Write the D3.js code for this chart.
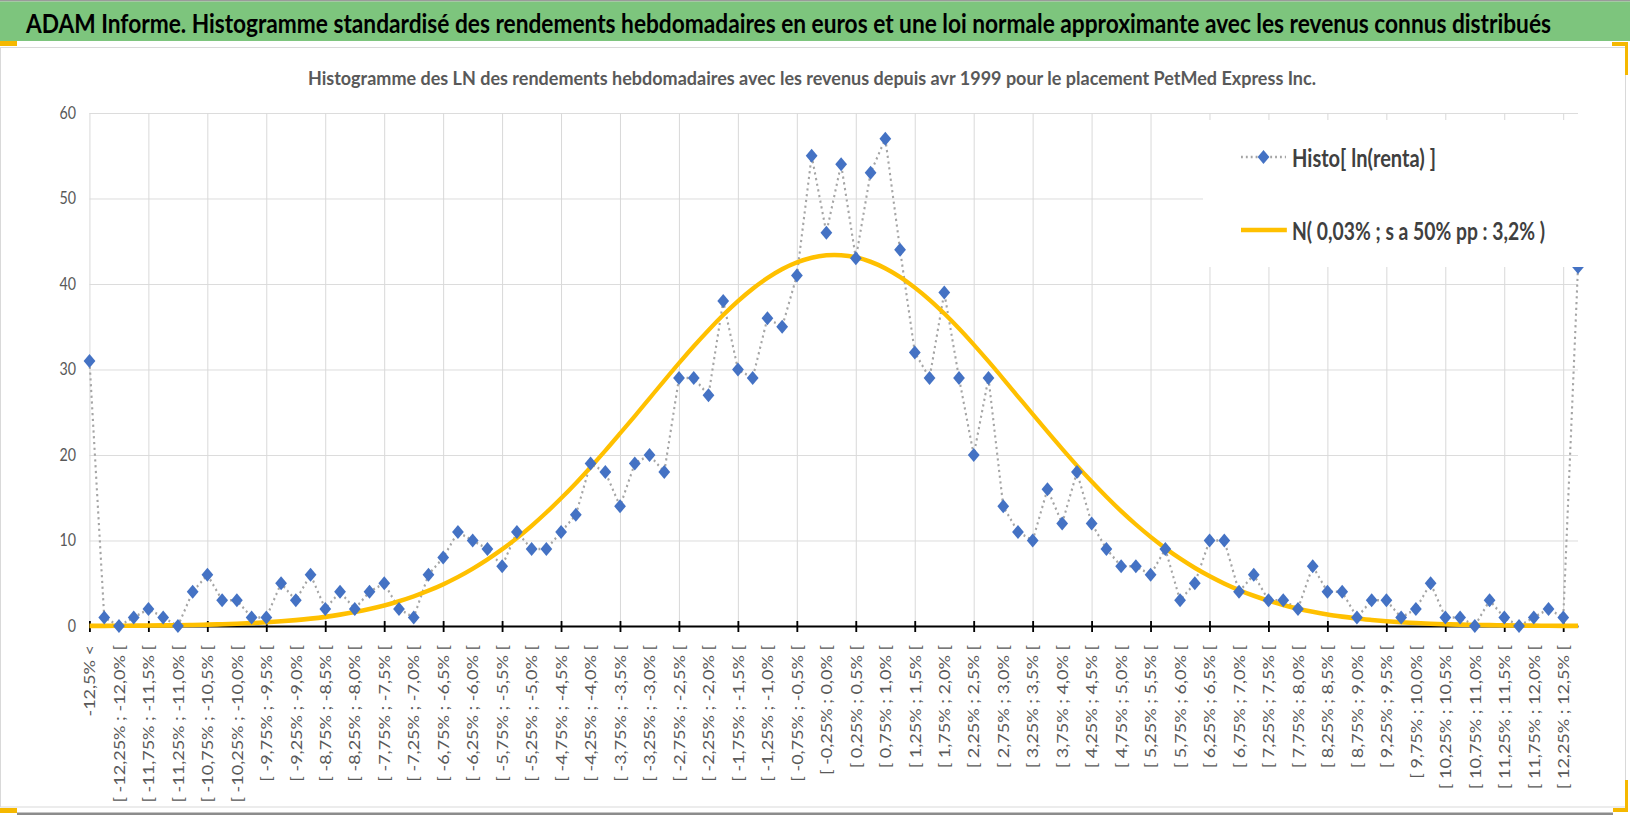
<!DOCTYPE html>
<html>
<head>
<meta charset="utf-8">
<script src="https://cdn.jsdelivr.net/npm/d3@7"></script>
<style>
	body { margin: 0; background: #fff; }
	svg { display: block; }
</style>
</head>
<body>
<div id="container"></div>
<script>
// bin edges of the weekly log-return histogram (0,25% wide)
const binEdges = [
	"-12,5%", "-12,25%", "-12,0%", "-11,75%", "-11,5%", "-11,25%", "-11,0%", "-10,75%", "-10,5%", "-10,25%",
	"-10,0%", "-9,75%", "-9,5%", "-9,25%", "-9,0%", "-8,75%", "-8,5%", "-8,25%", "-8,0%", "-7,75%",
	"-7,5%", "-7,25%", "-7,0%", "-6,75%", "-6,5%", "-6,25%", "-6,0%", "-5,75%", "-5,5%", "-5,25%",
	"-5,0%", "-4,75%", "-4,5%", "-4,25%", "-4,0%", "-3,75%", "-3,5%", "-3,25%", "-3,0%", "-2,75%",
	"-2,5%", "-2,25%", "-2,0%", "-1,75%", "-1,5%", "-1,25%", "-1,0%", "-0,75%", "-0,5%", "-0,25%",
	"0,0%", "0,25%", "0,5%", "0,75%", "1,0%", "1,25%", "1,5%", "1,75%", "2,0%", "2,25%",
	"2,5%", "2,75%", "3,0%", "3,25%", "3,5%", "3,75%", "4,0%", "4,25%", "4,5%", "4,75%",
	"5,0%", "5,25%", "5,5%", "5,75%", "6,0%", "6,25%", "6,5%", "6,75%", "7,0%", "7,25%",
	"7,5%", "7,75%", "8,0%", "8,25%", "8,5%", "8,75%", "9,0%", "9,25%", "9,5%", "9,75%",
	"10,0%", "10,25%", "10,5%", "10,75%", "11,0%", "11,25%", "11,5%", "11,75%", "12,0%", "12,25%",
	"12,5%",
];
const firstCategory = "-12,5% <";
const lastCategory = "> 12,5%";

// Histo[ ln(renta) ] : counts per bin
const histValues = [
	31, 1, 0, 1, 2, 1, 0, 4, 6, 3,
	3, 1, 1, 5, 3, 6, 2, 4, 2, 4,
	5, 2, 1, 6, 8, 11, 10, 9, 7, 11,
	9, 9, 11, 13, 19, 18, 14, 19, 20, 18,
	29, 29, 27, 38, 30, 29, 36, 35, 41, 55,
	46, 54, 43, 53, 57, 44, 32, 29, 39, 29,
	20, 29, 14, 11, 10, 16, 12, 18, 12, 9,
	7, 7, 6, 9, 3, 5, 10, 10, 4, 6,
	3, 3, 2, 7, 4, 4, 1, 3, 3, 1,
	2, 5, 1, 1, 0, 3, 1, 0, 1, 2,
	1, 42,
];

// N( 0,03% ; s a 50% pp : 3,2% ) : values
const normalValues = [
	0.02, 0.02, 0.03, 0.04, 0.05, 0.07, 0.09, 0.12, 0.16, 0.21,
	0.27, 0.34, 0.43, 0.55, 0.69, 0.86, 1.07, 1.33, 1.63, 1.98,
	2.40, 2.90, 3.47, 4.13, 4.88, 5.73, 6.70, 7.78, 8.97, 10.28,
	11.72, 13.27, 14.93, 16.70, 18.57, 20.51, 22.52, 24.56, 26.63, 28.70,
	30.74, 32.72, 34.60, 36.37, 38.00, 39.45, 40.70, 41.74, 42.53, 43.08,
	43.36, 43.37, 43.12, 42.60, 41.83, 40.82, 39.58, 38.15, 36.54, 34.79,
	32.91, 30.94, 28.91, 26.84, 24.77, 22.72, 20.71, 18.76, 16.89, 15.11,
	13.43, 11.87, 10.43, 9.10, 7.89, 6.80, 5.83, 4.96, 4.20, 3.53,
	2.95, 2.45, 2.02, 1.66, 1.35, 1.10, 0.88, 0.71, 0.56, 0.44,
	0.35, 0.27, 0.21, 0.16, 0.12, 0.10, 0.07, 0.05, 0.04, 0.03,
	0.02, 0.02,
];

const yTicks = [0, 10, 20, 30, 40, 50, 60];

const titleText = "ADAM Informe. Histogramme standardisé des rendements hebdomadaires en euros et une loi normale approximante avec les revenus connus distribués";
const subtitleText = "Histogramme des LN des rendements hebdomadaires avec les revenus depuis avr 1999 pour le placement PetMed Express Inc.";
const seriesNames = ["Histo[ ln(renta) ]", "N( 0,03% ; s a 50% pp : 3,2% )"];

const categories = [firstCategory]
	.concat(binEdges.slice(1).map((e, i) => `[ ${binEdges[i]} ; ${e} [`))
	.concat([lastCategory]);

window.addEventListener("load", () => drawChart());

function drawChart() {
	const width = 1630;
	const height = 815;
	// the original picture is squeezed horizontally
	const sx = 0.84;
	const margin = { top: 113, bottom: 626, left: 89.5 / sx, right: 1578 / sx };

	const svg = d3
		.select("#container")
		.append("svg")
		.attr("width", width)
		.attr("height", height);

	drawFrame();

	const g = svg.append("g").attr("transform", `scale(${sx},1)`);

	const xScale = d3.scalePoint().domain(categories).range([margin.left, margin.right]);
	const yScale = d3.scaleLinear().domain([0, 60]).range([margin.bottom, margin.top]);

	const gridCats = categories.filter((d, i) => i % 4 === 0);
	const labelCats = categories.filter((d, i) => i % 2 === 0);

	drawTitles();
	drawGrid();
	drawAxes();
	drawSeries();
	drawLegend();

	function drawFrame() {
		svg.append("rect").attr("x", 0).attr("y", 0).attr("width", width).attr("height", 1.5).attr("fill", "#9a9a9a");
		svg.append("rect").attr("x", 0).attr("y", 1.5).attr("width", width).attr("height", 39.5).attr("fill", "#7dc57d");
		svg.append("rect")
			.attr("x", 0.5).attr("y", 47.5).attr("width", 1625).attr("height", 759.5)
			.attr("fill", "none").attr("stroke", "#d9d9d9");
		svg.append("rect").attr("x", 17).attr("y", 812.5).attr("width", 1596).attr("height", 2.5).attr("fill", "#8c8c8c");
		// selection handles
		const handles = [
			[0, 41, 17, 5], [1612, 42, 16, 4], [1625, 42, 3, 33],
			[0, 808, 17, 5], [1613, 808, 15, 4], [1625, 780, 3, 30],
		];
		svg.append("g")
			.selectAll("rect")
			.data(handles)
			.join("rect")
			.attr("x", (d) => d[0]).attr("y", (d) => d[1])
			.attr("width", (d) => d[2]).attr("height", (d) => d[3])
			.attr("fill", "#f5b800");
	}

	function drawTitles() {
		g.append("text")
			.attr("x", 26 / sx).attr("y", 33)
			.attr("textLength", 1525 / sx).attr("lengthAdjust", "spacingAndGlyphs")
			.style("font-family", "Lato, 'Open Sans', sans-serif")
			.style("font-weight", "bold").style("font-size", "26px")
			.attr("fill", "#000")
			.text(titleText);

		g.append("text")
			.attr("x", 308 / sx).attr("y", 85)
			.attr("textLength", 1008 / sx).attr("lengthAdjust", "spacingAndGlyphs")
			.style("font-family", "Lato, 'Open Sans', sans-serif")
			.style("font-weight", "bold").style("font-size", "19.5px")
			.attr("fill", "#595959")
			.text(subtitleText);
	}

	function drawGrid() {
		g.append("g")
			.attr("class", "x-grid")
			.attr("transform", `translate(0,${margin.bottom})`)
			.call(d3.axisBottom(xScale).tickValues(gridCats).tickSize(margin.top - margin.bottom).tickFormat(""))
			.call((s) => s.select(".domain").remove())
			.call((s) => s.selectAll("line").attr("stroke", "#d9d9d9").attr("stroke-width", 1.2));

		g.append("g")
			.attr("class", "y-grid")
			.attr("transform", `translate(${margin.left},0)`)
			.call(d3.axisLeft(yScale).tickValues(yTicks).tickSize(margin.left - margin.right).tickFormat(""))
			.call((s) => s.select(".domain").remove())
			.call((s) => s.selectAll("line").attr("stroke", "#d9d9d9").attr("stroke-width", 1));
	}

	function drawAxes() {
		g.append("g")
			.attr("class", "y-axis")
			.attr("transform", `translate(${margin.left},0)`)
			.call(d3.axisLeft(yScale).tickValues(yTicks).tickSize(0).tickPadding(16))
			.call((s) => s.select(".domain").remove())
			.call((s) =>
				s.selectAll("text")
					.style("font-family", "Lato, 'Open Sans', sans-serif")
					.style("font-size", "17px")
					.attr("fill", "#595959")
			);

		g.append("g")
			.attr("class", "x-axis")
			.attr("transform", `translate(0,${margin.bottom})`)
			.call(d3.axisBottom(xScale).tickValues(gridCats).tickSizeInner(6).tickSizeOuter(0).tickFormat(""))
			.call((s) => s.select(".domain").attr("stroke", "#000").attr("stroke-width", 2.2))
			.call((s) => s.selectAll(".tick line").attr("y1", -5).attr("stroke", "#000").attr("stroke-width", 2.2));

		g.append("g")
			.attr("class", "x-labels")
			.attr("transform", `translate(0,${margin.bottom})`)
			.call(d3.axisBottom(xScale).tickValues(labelCats).tickSize(0))
			.call((s) => s.select(".domain").remove())
			.call((s) =>
				s.selectAll("text")
					.attr("transform", "rotate(-90)")
					.attr("text-anchor", "end")
					.attr("x", -19)
					.attr("y", 0)
					.attr("dy", "0.35em")
					.style("font-family", "Lato, 'Open Sans', sans-serif")
					.style("font-size", "18px")
					.attr("fill", "#595959")
			);
	}

	function drawSeries() {
		const histLine = d3
			.line()
			.x((d, i) => xScale(categories[i]))
			.y((d) => yScale(d));

		const normalLine = d3
			.line()
			.x((d, i) => xScale(categories[i]))
			.y((d) => yScale(d))
			.curve(d3.curveCatmullRom);

		g.append("path")
			.attr("class", "histo-line")
			.attr("d", histLine(histValues))
			.attr("fill", "none")
			.attr("stroke", "#a5a5a5")
			.attr("stroke-width", 2.5)
			.attr("stroke-dasharray", "2.2,3.6");

		g.append("path")
			.attr("class", "normal-line")
			.attr("d", normalLine(normalValues))
			.attr("fill", "none")
			.attr("stroke", "#ffc000")
			.attr("stroke-width", 4.6)
			.attr("stroke-linejoin", "round");

		g.append("g")
			.attr("class", "dots")
			.selectAll("path")
			.data(histValues)
			.join("path")
			.attr("transform", (d, i) => `translate(${xScale(categories[i])},${yScale(d)})`)
			.attr("d", diamond(98))
			.attr("fill", "#4472c4");
	}

	function drawLegend() {
		const lg = g.append("g").attr("class", "legend");
		lg.append("rect")
			.attr("x", 1203 / sx).attr("y", 120)
			.attr("width", 387 / sx).attr("height", 147)
			.attr("fill", "#fff");

		const x0 = 1241 / sx;
		const x1 = 1286 / sx;
		const rows = [157, 230];

		lg.append("line")
			.attr("x1", x0).attr("x2", x1).attr("y1", rows[0]).attr("y2", rows[0])
			.attr("stroke", "#a5a5a5").attr("stroke-width", 2.5).attr("stroke-dasharray", "2.2,3.6");
		lg.append("path")
			.attr("transform", `translate(${(x0 + x1) / 2},${rows[0]})`)
			.attr("d", diamond(98))
			.attr("fill", "#4472c4");
		lg.append("line")
			.attr("x1", x0).attr("x2", x1 + 1).attr("y1", rows[1]).attr("y2", rows[1])
			.attr("stroke", "#ffc000").attr("stroke-width", 4.6);

		const lengths = [144 / sx, 253 / sx];
		lg.selectAll("text")
			.data(seriesNames)
			.join("text")
			.attr("x", 1292 / sx)
			.attr("y", (d, i) => rows[i] + 10)
			.attr("textLength", (d, i) => lengths[i])
			.attr("lengthAdjust", "spacingAndGlyphs")
			.style("font-family", "Lato, 'Open Sans', sans-serif")
			.style("font-weight", "bold")
			.style("font-size", "24px")
			.attr("fill", "#404040")
			.text((d) => d);
	}

	function diamond(size) {
		return d3.symbol().type({
			draw(context, s) {
				const r = Math.sqrt(s / 2);
				context.moveTo(0, -r);
				context.lineTo(r, 0);
				context.lineTo(0, r);
				context.lineTo(-r, 0);
				context.closePath();
			},
		}).size(size)();
	}
}
</script>
</body>
</html>
